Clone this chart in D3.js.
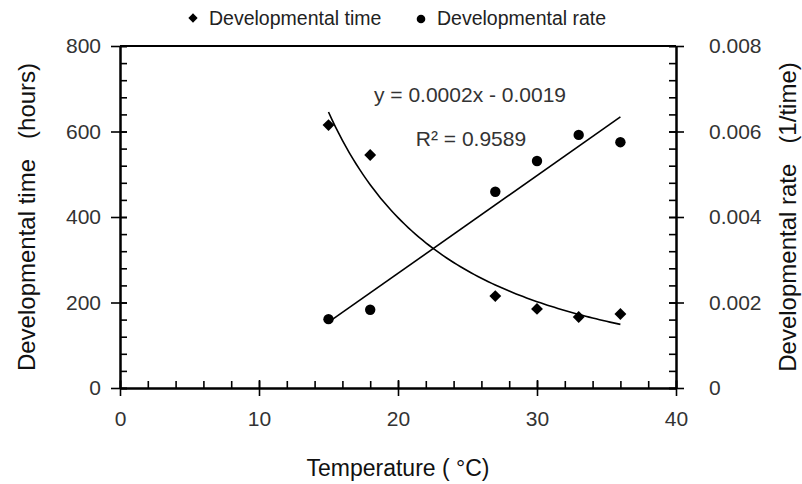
<!DOCTYPE html>
<html>
<head>
<meta charset="utf-8">
<script src="https://cdn.jsdelivr.net/npm/d3@7"></script>
<style>
  body { margin: 0; background: #fff; }
  text { font-family: "Liberation Sans", Arial, sans-serif; }
  .title { white-space: pre; }
</style>
</head>
<body>
<div id="chart"></div>
<script>
// data
const temps = [15, 18, 27, 30, 33, 36];
const devTime = [615, 545, 215, 185, 166, 173];
const devRate = [0.00161, 0.00183, 0.00459, 0.00531, 0.00592, 0.00575];
const xTicks = [0, 10, 20, 30, 40];
const yLeftTicks = [0, 200, 400, 600, 800];
const yRightTicks = [0, 0.002, 0.004, 0.006, 0.008];
const eqText = "y = 0.0002x - 0.0019";
const r2Text = "R\u00b2 = 0.9589";

const W = 802, H = 484;
const margin = { top: 46, right: 126, bottom: 96, left: 120 };

const svg = d3.select("#chart").append("svg")
  .attr("width", W)
  .attr("height", H);

const x = d3.scaleLinear().domain([0, 40]).range([margin.left, W - margin.right]);
const yL = d3.scaleLinear().domain([0, 800]).range([H - margin.bottom, margin.top]);
const yR = d3.scaleLinear().domain([0, 0.008]).range([H - margin.bottom, margin.top]);

const x0 = x.range()[0], x1 = x.range()[1];
const y0 = yL.range()[0], y1 = yL.range()[1];

// frame top line
svg.append("line")
  .attr("x1", x0).attr("x2", x1).attr("y1", y1).attr("y2", y1)
  .attr("stroke", "#000").attr("stroke-width", 2);

// axis helper: major ticks cross, minor ticks inward
function styleAxis(g) {
  g.select(".domain").attr("stroke", "#000").attr("stroke-width", 2);
  g.selectAll(".tick line").attr("stroke", "#000").attr("stroke-width", 1.6);
  g.selectAll(".tick text")
    .attr("fill", "#333")
    .style("font-size", "21px");
}

// bottom axis
const minorX = d3.range(0, 40.01, 2);
svg.append("g")
  .attr("transform", `translate(0,${y0})`)
  .call(d3.axisBottom(x).tickValues(minorX).tickSize(-7).tickSizeOuter(0).tickFormat(""))
  .call(styleAxis);
const gx = svg.append("g")
  .attr("transform", `translate(0,${y0})`)
  .call(d3.axisBottom(x).tickValues(xTicks).tickSize(8).tickSizeOuter(0).tickPadding(15))
  .call(styleAxis);
gx.selectAll(".tick line").attr("y1", -8);

// left axis
const minorL = d3.range(0, 800.1, 40);
svg.append("g")
  .attr("transform", `translate(${x0},0)`)
  .call(d3.axisLeft(yL).tickValues(minorL).tickSize(-7).tickSizeOuter(0).tickFormat(""))
  .call(styleAxis);
const gl = svg.append("g")
  .attr("transform", `translate(${x0},0)`)
  .call(d3.axisLeft(yL).tickValues(yLeftTicks).tickSize(9).tickSizeOuter(0).tickPadding(10))
  .call(styleAxis);
gl.selectAll(".tick line").attr("x1", 7);

// right axis
const minorR = d3.range(0, 21).map(i => i * 0.0004);
svg.append("g")
  .attr("transform", `translate(${x1},0)`)
  .call(d3.axisRight(yR).tickValues(minorR).tickSize(-7).tickSizeOuter(0).tickFormat(""))
  .call(styleAxis);
const gr = svg.append("g")
  .attr("transform", `translate(${x1},0)`)
  .call(d3.axisRight(yR).tickValues(yRightTicks).tickSize(8).tickSizeOuter(0).tickPadding(25)
    .tickFormat(d => d === 0 ? "0" : d3.format(".3f")(d)))
  .call(styleAxis);
gr.selectAll(".tick line").attr("x1", -7);

// trend lines fitted from the points
const mx = d3.mean(temps), my = d3.mean(devRate);
const slope = d3.sum(temps, (t, i) => (t - mx) * (devRate[i] - my)) / d3.sum(temps, t => (t - mx) ** 2);
const icpt = my - slope * mx;

// power fit (log-log) for developmental time
const lx = temps.map(Math.log), ly = devTime.map(Math.log);
const mlx = d3.mean(lx), mly = d3.mean(ly);
const pb = d3.sum(lx, (v, i) => (v - mlx) * (ly[i] - mly)) / d3.sum(lx, v => (v - mlx) ** 2);
const pa = Math.exp(mly - pb * mlx);

const xs = d3.range(15, 36.01, 0.25);
svg.append("path")
  .datum(xs)
  .attr("fill", "none").attr("stroke", "#000").attr("stroke-width", 1.6)
  .attr("d", d3.line().x(d => x(d)).y(d => yL(pa * Math.pow(d, pb))));
svg.append("path")
  .datum([15, 36])
  .attr("fill", "none").attr("stroke", "#000").attr("stroke-width", 1.6)
  .attr("d", d3.line().x(d => x(d)).y(d => yR(slope * d + icpt)));

// points
const diamond = d3.symbol().type(d3.symbolDiamond2).size(90);
svg.selectAll(".tpt")
  .data(temps)
  .join("path")
  .attr("class", "tpt")
  .attr("d", diamond)
  .attr("transform", (d, i) => `translate(${x(d)},${yL(devTime[i])})`)
  .attr("fill", "#000");
svg.selectAll(".rpt")
  .data(temps)
  .join("circle")
  .attr("class", "rpt")
  .attr("cx", d => x(d))
  .attr("cy", (d, i) => yR(devRate[i]))
  .attr("r", 5.2)
  .attr("fill", "#000");

// equation labels
svg.append("text").attr("x", 470).attr("y", 102).attr("text-anchor", "middle")
  .style("font-size", "21px").attr("fill", "#333").text(eqText);
svg.append("text").attr("x", 471).attr("y", 146).attr("text-anchor", "middle")
  .style("font-size", "21px").attr("fill", "#333").text(r2Text);

// axis titles
svg.append("text")
  .attr("transform", `translate(${x((x.domain()[0] + x.domain()[1]) / 2)},${H - 8})`)
  .attr("text-anchor", "middle")
  .style("font-size", "23px").attr("fill", "#111")
  .text("Temperature ( \u00b0C)");
svg.append("text")
  .attr("class", "title")
  .attr("transform", `translate(35,${(y0 + y1) / 2}) rotate(-90)`)
  .attr("text-anchor", "middle")
  .style("font-size", "24px").attr("fill", "#111")
  .text("Developmental time   (hours)");
svg.append("text")
  .attr("class", "title")
  .attr("transform", `translate(796,${(y0 + y1) / 2}) rotate(-90)`)
  .attr("text-anchor", "middle")
  .style("font-size", "24px").attr("fill", "#111")
  .text("Developmental rate   (1/time)");

// legend
const legend = svg.append("g");
legend.append("path").attr("d", d3.symbol().type(d3.symbolDiamond2).size(55))
  .attr("transform", "translate(193,18)").attr("fill", "#000");
legend.append("text").attr("x", 209).attr("y", 25)
  .style("font-size", "19.5px").attr("fill", "#222").text("Developmental time");
legend.append("circle").attr("cx", 421).attr("cy", 19).attr("r", 4.3).attr("fill", "#000");
legend.append("text").attr("x", 437).attr("y", 25)
  .style("font-size", "19.5px").attr("fill", "#222").text("Developmental rate");
</script>
</body>
</html>
